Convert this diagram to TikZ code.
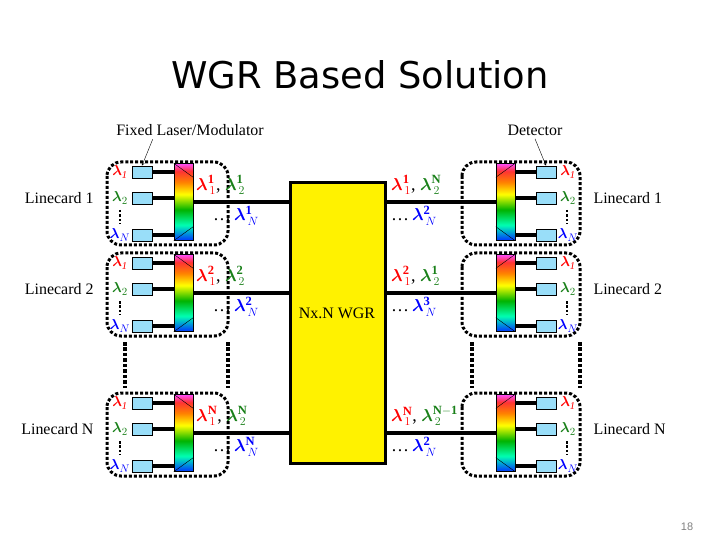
\documentclass[tikz,border=0pt]{standalone}
\usepackage{amsmath,bm}
\usepackage{fontspec}
\newfontfamily\titlefont{DejaVu Sans}
\newfontfamily\numfont{Liberation Sans}
\setmainfont{Liberation Serif}
\pgfdeclareverticalshading{rainbow}{100bp}{color(0bp)=(blue!80!cyan); color(25bp)=(blue!80!cyan); color(35bp)=(cyan!70!green); color(45bp)=(green!70!black); color(55bp)=(yellow); color(63bp)=(orange); color(70bp)=(red!80); color(75bp)=(magenta!70); color(100bp)=(magenta!70)}
\definecolor{lgreen}{rgb}{0.1,0.5,0.1}
\newcommand{\lam}[3]{$\bm{\lambda}^{\mathbf{#2}}_{\,#3}$}
\begin{document}
\begin{tikzpicture}[x=1bp,y=-1bp,
  laser/.style={draw, thick, fill=cyan!40, minimum width=20bp, minimum height=12bp, inner sep=0},
  mux/.style={draw, shading=rainbow, minimum width=19bp, minimum height=77bp, inner sep=0},
  fiber/.style={line width=3.5bp},
  dotbox/.style={line width=3bp, dotted, rounded corners=14bp},
  lbl/.style={font=\fontsize{18}{18}\selectfont, inner sep=1bp},
  wl/.style={font=\fontsize{15}{15}\selectfont, inner sep=0}]
\useasboundingbox (0,0) rectangle (720,540);

% titolo
\node (title) at (360,75) {\titlefont\fontsize{37}{37}\selectfont WGR Based Solution};
\node[font=\fontsize{16}{16}\selectfont] (fixed) at (190,130) {Fixed Laser/Modulator};
\node[font=\fontsize{16}{16}\selectfont] (det) at (535,130) {Detector};

% WGR
\node[draw, line width=3bp, fill=yellow, minimum width=95bp, minimum height=280bp, inner sep=0] (wgr) at (337.5,323) {};
\node[font=\fontsize{16}{16}\selectfont] (wgrlbl) at (337,313) {Nx.N WGR};

% linecard
\foreach \g/\t/\c/\la/\lb/\lc/\ra/\rb/\rc in {
  1/162/1/1/1/1/1/N/2,
  2/253/2/2/2/2/2/1/3,
  3/393/N/N/N/N/N/N-1/2}{
  % lato sinistro
  \draw[dotbox] (107,\t) rectangle (228,\t+83);
  \node[laser] (La\g) at (142,\t+10) {};
  \node[laser] (Lb\g) at (142,\t+36) {};
  \node[laser] (Lc\g) at (142,\t+73) {};
  \node[wl, red] at (120,\t+10) {$\bm{\lambda}_{\mathit1}$};
  \node[wl, lgreen] at (120,\t+36) {$\bm{\lambda}_{2}$};
  \node[wl, blue] at (120,\t+73) {$\bm{\lambda}_{N}$};
  \draw[line width=2.5bp, dotted] (120,\t+48) -- (120,\t+62);
  \node[mux] (M\g) at (183.5,\t+40) {};
  \draw (M\g.north west) -- ([yshift=-14bp]M\g.north east);
  \draw (M\g.south west) -- ([yshift=14bp]M\g.south east);
  \foreach \k in {a,b,c} \draw[fiber] (L\k\g) -- (L\k\g -| M\g.west);
  \draw[fiber] (M\g.east) -- (M\g.east -| wgr.west);
  \node[lbl, anchor=west] at (195,\t+23) {\textcolor{red}{\lam{}{\la}{1}}, \textcolor{lgreen}{\lam{}{\lb}{2}}};
  \node[lbl, anchor=west] at (212,\t+54) {\dots\,\textcolor{blue}{\lam{}{\lc}{N}}};
  \node[font=\fontsize{16}{16}\selectfont, anchor=east] (lcl\g) at (97,\t+36) {Linecard \c};
  % lato destro
  \draw[dotbox] (462,\t) rectangle (580,\t+83);
  \node[laser] (Ra\g) at (546,\t+10) {};
  \node[laser] (Rb\g) at (546,\t+36) {};
  \node[laser] (Rc\g) at (546,\t+73) {};
  \node[wl, red] at (568,\t+10) {$\bm{\lambda}_{\mathit1}$};
  \node[wl, lgreen] at (568,\t+36) {$\bm{\lambda}_{2}$};
  \node[wl, blue] at (568,\t+73) {$\bm{\lambda}_{N}$};
  \draw[line width=2.5bp, dotted] (567,\t+48) -- (567,\t+62);
  \node[mux] (N\g) at (505.5,\t+40) {};
  \draw (N\g.north east) -- ([yshift=-14bp]N\g.north west);
  \draw (N\g.south east) -- ([yshift=14bp]N\g.south west);
  \foreach \k in {a,b,c} \draw[fiber] (R\k\g) -- (R\k\g -| N\g.east);
  \draw[fiber] (wgr.east |- N\g.west) -- (N\g.west);
  \node[lbl, anchor=west] at (390,\t+23) {\textcolor{red}{\lam{}{\ra}{1}}, \textcolor{lgreen}{\lam{}{\rb}{2}}};
  \node[lbl, anchor=west] at (390,\t+54) {\dots\,\textcolor{blue}{\lam{}{\rc}{N}}};
  \node[font=\fontsize{16}{16}\selectfont, anchor=west] (lcr\g) at (590,\t+36) {Linecard \c};
}

% puntini tra i linecard
\foreach \x in {125,228,472,580}
  \draw[line width=3.5bp, dotted] (\x,342) -- (\x,388);

% frecce
\draw[-stealth] (fixed.south west) ++(40,0) -- (La1.north);
\draw[-stealth] (det.south) -- (Ra1.north);

\node[font=\numfont\fontsize{11}{11}\selectfont, gray] (pg) at (687,527) {18};
\end{tikzpicture}
\end{document}
